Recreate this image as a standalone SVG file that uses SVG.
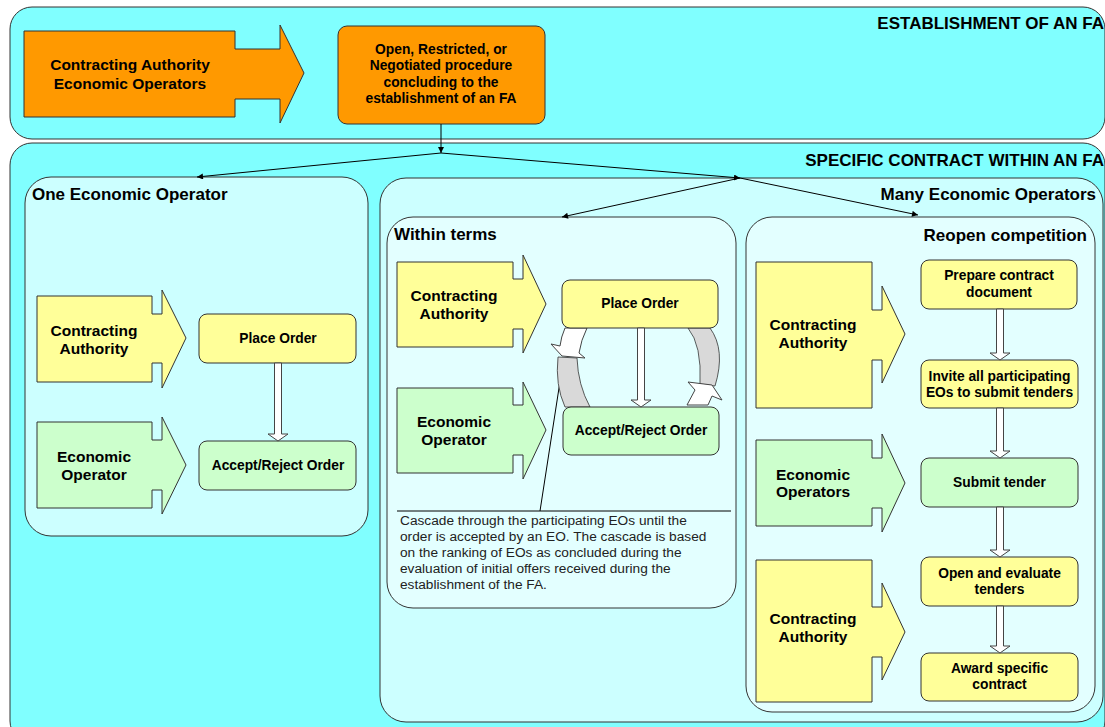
<svg xmlns="http://www.w3.org/2000/svg" width="1105" height="727" viewBox="0 0 1105 727">
<defs>
<style>
.t{font-family:"Liberation Sans",Arial,sans-serif;font-weight:bold;fill:#000}
.title{font-size:17px}
.al{font-size:15.5px;text-anchor:middle}
.bl{font-size:13.8px;text-anchor:middle}
.note{font-family:"Liberation Sans",Arial,sans-serif;font-size:13.7px;fill:#222}
.zone{fill:#80ffff;stroke:#333;stroke-width:1}
.sub{fill:#ccffff;stroke:#333;stroke-width:1}
.subsub{fill:#e3ffff;stroke:#333;stroke-width:1}
.ya{fill:#ffff99;stroke:#333;stroke-width:1}
.ga{fill:#ccffcc;stroke:#333;stroke-width:1}
.oa{fill:#ff9900;stroke:#333;stroke-width:1}
.blk{fill:#fff;stroke:#444;stroke-width:1}
.ring{fill:#d9d9d9;stroke:#333;stroke-width:0.8}
.conn{stroke:#000;stroke-width:1;fill:none}
</style>
<marker id="ah" viewBox="0 0 10 10" refX="10" refY="5" markerWidth="8" markerHeight="6" markerUnits="userSpaceOnUse" orient="auto">
<path d="M0,0 L10,5 L0,10 Z" fill="#000"/>
</marker>
</defs>

<g id="zone-establishment">
<rect class="zone" x="10" y="7" width="1095" height="132" rx="22"/>
<text class="t title" x="1104" y="29" text-anchor="end">ESTABLISHMENT OF AN FA</text>
</g>
<g id="zone-specific">
<rect class="zone" x="10" y="143" width="1095" height="600" rx="22"/>
<text class="t title" x="1104" y="166" text-anchor="end">SPECIFIC CONTRACT WITHIN AN FA</text>
</g>

<g id="actors-fa">
<path class="oa" d="M24,31 L235,31 L235,49 L280,49 L280,25 L304,73 L280,123 L280,99 L235,99 L235,117 L24,117 Z"/>
<text class="t al" x="130" y="70">Contracting Authority</text>
<text class="t al" x="130" y="89">Economic Operators</text>
</g>
<g id="procedure">
<rect class="oa" x="338" y="26" width="207" height="98" rx="9"/>
<text class="t bl" x="441" y="54">Open, Restricted, or</text>
<text class="t bl" x="441" y="70">Negotiated procedure</text>
<text class="t bl" x="441" y="86.5">concluding to the</text>
<text class="t bl" x="441" y="103">establishment of an FA</text>
</g>

<g id="one-eo">
<rect class="sub" x="25" y="177" width="343" height="359" rx="26"/>
<text class="t title" x="32" y="200">One Economic Operator</text>
</g>
<g id="one-ca">
<path class="ya" d="M37,296 L152,296 L152,314 L162,314 L162,290 L186,338 L162,388 L162,363 L152,363 L152,382 L37,382 Z"/>
<text class="t al" x="94" y="336">Contracting</text>
<text class="t al" x="94" y="354">Authority</text>
</g>
<g id="one-eo-actor">
<path class="ga" d="M37,422 L152,422 L152,440 L162,440 L162,417 L186,465 L162,514 L162,490 L152,490 L152,508 L37,508 Z"/>
<text class="t al" x="94" y="462">Economic</text>
<text class="t al" x="94" y="480">Operator</text>
</g>
<g id="one-place">
<rect class="ya" x="199" y="314" width="157" height="49" rx="8"/>
<text class="t bl" x="278" y="343">Place Order</text>
</g>
<g id="one-accept">
<rect class="ga" x="199" y="441" width="157" height="49" rx="8"/>
<text class="t bl" x="278" y="470">Accept/Reject Order</text>
</g>

<g id="many-eo">
<rect class="sub" x="380" y="178" width="723" height="544" rx="26"/>
<text class="t title" x="1096" y="200" text-anchor="end">Many Economic Operators</text>
</g>

<g id="within-terms">
<rect class="subsub" x="387" y="217" width="349" height="391" rx="26"/>
<text class="t title" x="394" y="240">Within terms</text>
<line x1="397" y1="511" x2="731" y2="511" stroke="#000" stroke-width="1"/>
<line x1="540" y1="511" x2="561" y2="375" stroke="#000" stroke-width="1"/>
<text class="note" x="400" y="525">Cascade through the participating EOs until the</text>
<text class="note" x="400" y="541">order is accepted by an EO. The cascade is based</text>
<text class="note" x="400" y="557">on the ranking of EOs as concluded during the</text>
<text class="note" x="400" y="573">evaluation of initial offers received during the</text>
<text class="note" x="400" y="589">establishment of the FA.</text>
</g>
<g id="cascade-cycle">
<path class="ring" d="M558,357 Q555,385 565,407 L590,407 Q578,385 577,358 Z"/>
<path class="blk" d="M565,328 L587,328 Q581,340 579,353 L585,358 L562,356 L551,344 L560,346 Q561,337 565,328 Z"/>
<path class="ring" d="M688,328 Q702,345 700,384 L715,386 Q726,350 710,328 Z"/>
<path class="blk" d="M687,405 L695,390 L688,382 L712,385 L722,400 L712,396 L708,405 Z"/>
</g>
<g id="wt-ca">
<path class="ya" d="M397,262 L513,262 L513,279 L523,279 L523,255 L546,304 L523,353 L523,329 L513,329 L513,347 L397,347 Z"/>
<text class="t al" x="454" y="301">Contracting</text>
<text class="t al" x="454" y="319">Authority</text>
</g>
<g id="wt-eo">
<path class="ga" d="M397,388 L513,388 L513,405 L523,405 L523,382 L546,430 L523,479 L523,455 L513,455 L513,473 L397,473 Z"/>
<text class="t al" x="454" y="427">Economic</text>
<text class="t al" x="454" y="445">Operator</text>
</g>
<g id="wt-place">
<rect class="ya" x="562" y="280" width="156" height="48" rx="8"/>
<text class="t bl" x="640" y="308">Place Order</text>
</g>
<g id="wt-accept">
<rect class="ga" x="563" y="407" width="156" height="48" rx="8"/>
<text class="t bl" x="641" y="435">Accept/Reject Order</text>
</g>

<g id="reopen">
<rect class="subsub" x="746" y="217" width="349" height="495" rx="26"/>
<text class="t title" x="1087" y="241" text-anchor="end">Reopen competition</text>
</g>
<g id="ro-ca1">
<path class="ya" d="M756,262 L872,262 L872,310 L882,310 L882,286 L905,334 L882,383 L882,360 L872,360 L872,408 L756,408 Z"/>
<text class="t al" x="813" y="330">Contracting</text>
<text class="t al" x="813" y="348">Authority</text>
</g>
<g id="ro-eo">
<path class="ga" d="M756,440 L872,440 L872,458 L882,458 L882,434 L905,483 L882,532 L882,508 L872,508 L872,526 L756,526 Z"/>
<text class="t al" x="813" y="480">Economic</text>
<text class="t al" x="813" y="497">Operators</text>
</g>
<g id="ro-ca2">
<path class="ya" d="M756,560 L872,560 L872,607 L882,607 L882,583 L905,632 L882,680 L882,657 L872,657 L872,702 L756,702 Z"/>
<text class="t al" x="813" y="624">Contracting</text>
<text class="t al" x="813" y="642">Authority</text>
</g>
<g id="ro-prepare">
<rect class="ya" x="921" y="260" width="156" height="49" rx="8"/>
<text class="t bl" x="999" y="280">Prepare contract</text>
<text class="t bl" x="999" y="297">document</text>
</g>
<g id="ro-invite">
<rect class="ya" x="921" y="360" width="157" height="48" rx="8"/>
<text class="t bl" x="999.5" y="381">Invite all participating</text>
<text class="t bl" x="999.5" y="397">EOs to submit tenders</text>
</g>
<g id="ro-submit">
<rect class="ga" x="921" y="458" width="157" height="49" rx="8"/>
<text class="t bl" x="999.5" y="487">Submit tender</text>
</g>
<g id="ro-open">
<rect class="ya" x="921" y="557" width="157" height="49" rx="8"/>
<text class="t bl" x="999.5" y="578">Open and evaluate</text>
<text class="t bl" x="999.5" y="594">tenders</text>
</g>
<g id="ro-award">
<rect class="ya" x="921" y="653" width="157" height="48" rx="8"/>
<text class="t bl" x="999.5" y="673">Award specific</text>
<text class="t bl" x="999.5" y="689">contract</text>
</g>

<g id="connectors">
<line class="conn" x1="441" y1="124" x2="441" y2="153" marker-end="url(#ah)"/>
<line class="conn" x1="441" y1="153" x2="197" y2="177" marker-end="url(#ah)"/>
<line class="conn" x1="441" y1="153" x2="740" y2="178" marker-end="url(#ah)"/>
<line class="conn" x1="740" y1="178" x2="562" y2="217" marker-end="url(#ah)"/>
<line class="conn" x1="740" y1="178" x2="918" y2="215" marker-end="url(#ah)"/>
<path class="blk" d="M274.5,363 L281.5,363 L281.5,434 L288,434 L278,441 L268,434 L274.5,434 Z"/>
<path class="blk" d="M637.5,328 L644.5,328 L644.5,400 L651,400 L641,407 L631,400 L637.5,400 Z"/>
<path class="blk" d="M996.5,309 L1003.5,309 L1003.5,353 L1010,353 L1000,360 L990,353 L996.5,353 Z"/>
<path class="blk" d="M996.5,408 L1003.5,408 L1003.5,451 L1010,451 L1000,458 L990,451 L996.5,451 Z"/>
<path class="blk" d="M996.5,507 L1003.5,507 L1003.5,550 L1010,550 L1000,557 L990,550 L996.5,550 Z"/>
<path class="blk" d="M996.5,606 L1003.5,606 L1003.5,646 L1010,646 L1000,653 L990,646 L996.5,646 Z"/>
</g>
</svg>
